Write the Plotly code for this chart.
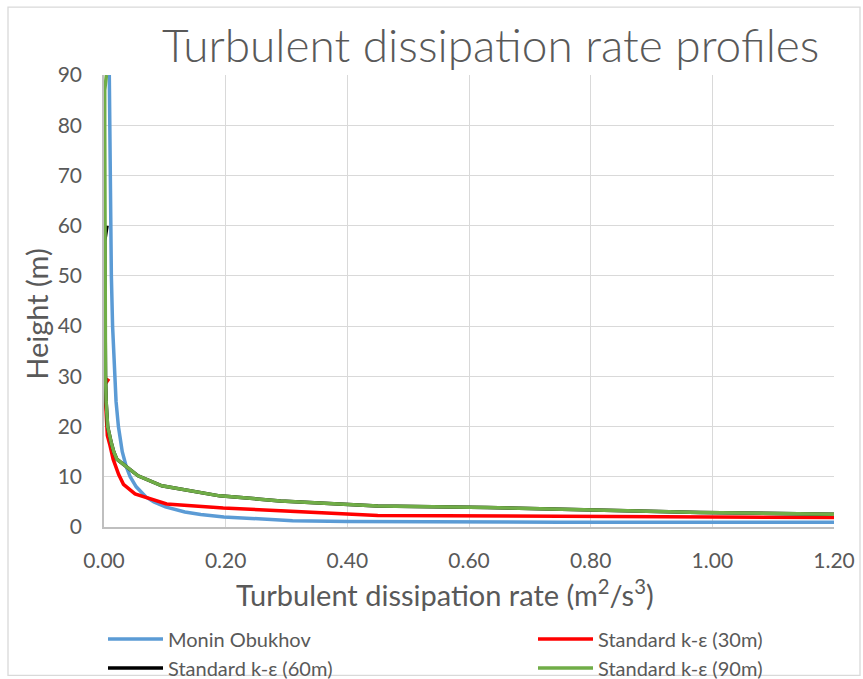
import plotly.graph_objects as go

# ---- data ----
mo_height = [90, 80, 70, 60, 50, 40, 30, 25, 20, 15, 12, 10, 8, 6, 5, 4, 3, 2.5, 2, 1.5, 1.25, 1.1, 1.0, 0.95, 0.93]
mo_eps = [0.0087, 0.0092, 0.0099, 0.0108, 0.0121, 0.0141, 0.0173, 0.0198, 0.0237, 0.030, 0.0366, 0.043,
          0.053, 0.069, 0.082, 0.101, 0.133, 0.159, 0.197, 0.26, 0.31, 0.40, 0.52, 0.75, 1.25]

ke30_height = [29.5, 28.5, 25, 20, 18.2, 16.2, 13.5, 10.5, 8.5, 6.6, 4.6, 3.8, 2.6, 2.3, 1.9]
ke30_eps = [0.008, 0.002, 0.0025, 0.004, 0.0055, 0.0099, 0.015, 0.024, 0.032, 0.051, 0.103, 0.196, 0.40, 0.45, 1.2]

ke60_height = [60, 57, 50, 40, 30, 25, 20, 17, 15, 13.5, 12.2, 10.2, 8.2, 6.2, 5.2, 4.6, 4.2, 3.9, 3.4, 2.9, 2.55]
ke60_eps = [0.005, 0.0013, 0.0013, 0.0016, 0.0025, 0.0035, 0.006, 0.0115, 0.016, 0.021, 0.0345, 0.056,
            0.095, 0.19, 0.29, 0.40, 0.45, 0.63, 0.80, 0.98, 1.2]

ke90_height = [90, 87, 80, 70, 60, 50, 40, 30, 25, 20, 17, 15, 13.5, 12.2, 10.2, 8.2, 6.2, 5.2, 4.6, 4.2, 3.9, 3.4, 2.9, 2.55]
ke90_eps = [0.004, 0.0012, 0.0012, 0.0012, 0.0013, 0.0013, 0.0016, 0.0025, 0.0035, 0.006, 0.0115, 0.016, 0.021,
            0.0345, 0.056, 0.095, 0.19, 0.29, 0.40, 0.45, 0.63, 0.80, 0.98, 1.2]

x_ticks = [0.0, 0.2, 0.4, 0.6, 0.8, 1.0, 1.2]
y_ticks = [0, 10, 20, 30, 40, 50, 60, 70, 80, 90]

FONT = "Lato"
TXT = "#595959"

fig = go.Figure()
series = [
    ("Monin Obukhov", mo_eps, mo_height, "#5B9BD5", "legend"),
    ("Standard k-ε (30m)", ke30_eps, ke30_height, "#FF0000", "legend2"),
    ("Standard k-ε (60m)", ke60_eps, ke60_height, "#000000", "legend"),
    ("Standard k-ε (90m)", ke90_eps, ke90_height, "#70AD47", "legend2"),
]
for name, xs, ys, col, lg in series:
    fig.add_trace(go.Scatter(x=xs, y=ys, mode="lines", name=name, legend=lg,
                             line=dict(color=col, width=3.5), cliponaxis=True))

W, H = 863, 679
L, R, T, B = 104, 29, 75, 151.5
pw, ph = W - L - R, H - T - B

def px(x):
    return (x - L) / pw

def py(y):
    return (H - B - y) / ph

leg_common = dict(orientation="v", yanchor="top", font=dict(size=20, color=TXT, family=FONT),
                  itemwidth=55, tracegroupgap=0, bgcolor="rgba(0,0,0,0)", xanchor="left")

fig.update_layout(
    width=W, height=H,
    margin=dict(l=L, r=R, t=T, b=B, pad=0, autoexpand=False),
    paper_bgcolor="white", plot_bgcolor="white",
    font=dict(family=FONT, color=TXT, size=21),
    showlegend=True,
    legend=dict(x=px(103), y=py(620), **leg_common),
    legend2=dict(x=px(533), y=py(620), **leg_common),
    xaxis=dict(range=[0, 1.2], tickvals=x_ticks, tickformat=".2f", showgrid=True,
               gridcolor="#D9D9D9", gridwidth=1.3, showline=True, linecolor="#BFBFBF",
               linewidth=1.5, zeroline=False, ticks="", ticklabelstandoff=14,
               tickfont=dict(size=21, color=TXT, family=FONT)),
    yaxis=dict(range=[0, 90], tickvals=y_ticks, showgrid=True, gridcolor="#D9D9D9",
               gridwidth=1.3, showline=True, linecolor="#BFBFBF", linewidth=1.5,
               zeroline=False, ticks="", ticklabelstandoff=16,
               tickfont=dict(size=21, color=TXT, family=FONT)),
    annotations=[
        dict(text="Turbulent dissipation rate profiles", xref="paper", yref="paper",
             x=px(490), y=py(44), xanchor="center", yanchor="middle", showarrow=False,
             font=dict(size=46, color=TXT, family=FONT, weight=300)),
        dict(text="Turbulent dissipation rate (m<sup>2</sup>/s<sup>3</sup>)", xref="paper", yref="paper",
             x=px(445), y=py(594), xanchor="center", yanchor="middle", showarrow=False,
             font=dict(size=29, color=TXT, family=FONT)),
        dict(text="Height (m)", xref="paper", yref="paper", textangle=-90,
             x=px(37), y=py(315), xanchor="center", yanchor="middle", showarrow=False,
             font=dict(size=29, color=TXT, family=FONT)),
    ],
    shapes=[
        dict(type="rect", xref="paper", yref="paper", x0=px(8), x1=px(860), y0=py(7), y1=py(676),
             line=dict(color="#D9D9D9", width=1.3), fillcolor="rgba(0,0,0,0)", layer="below"),
    ],
)

fig.write_html("out.html")
